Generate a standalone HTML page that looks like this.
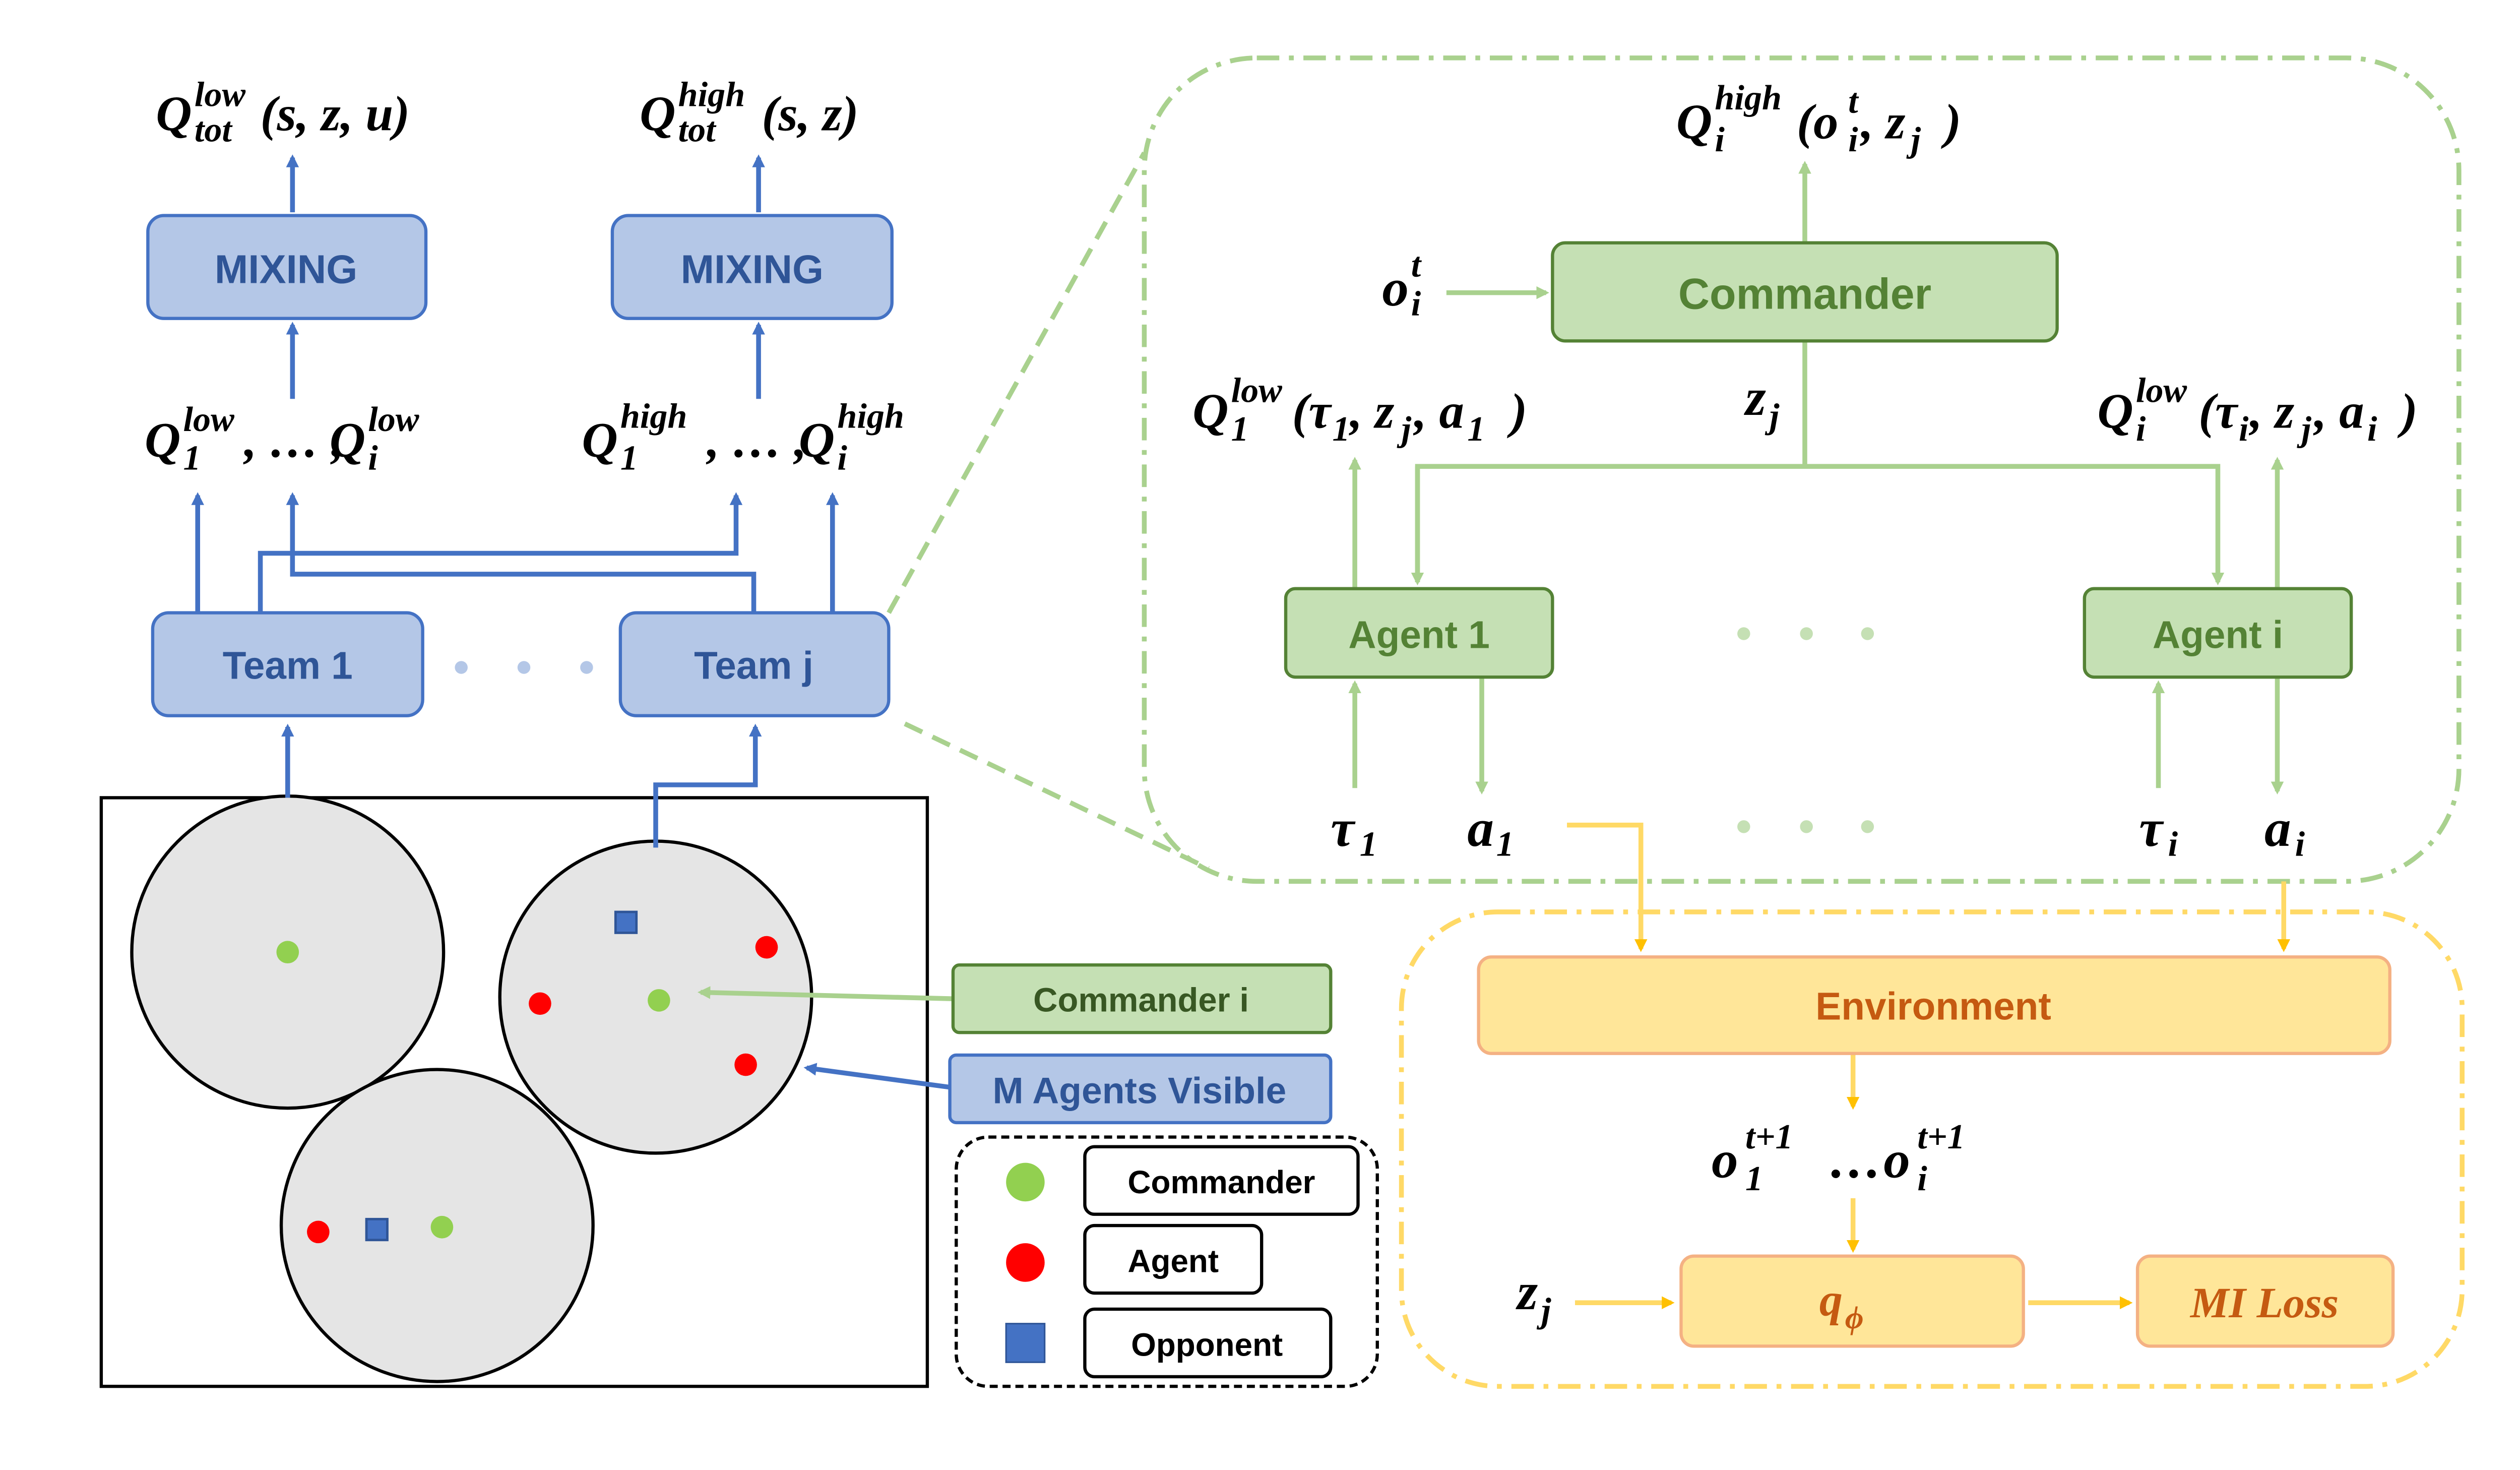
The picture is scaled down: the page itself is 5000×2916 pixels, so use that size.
<!DOCTYPE html>
<html><head><meta charset="utf-8"><style>
html,body{margin:0;padding:0;background:#fff;}
svg{display:block;}
.m{font-family:"Liberation Serif",serif;font-weight:bold;font-style:italic;fill:#000;}
.s{font-size:22px;}
.b{font-family:"Liberation Sans",sans-serif;font-weight:bold;}
</style></head><body>
<svg width="5000" height="2916" viewBox="0 0 1568 914" preserveAspectRatio="none" xmlns="http://www.w3.org/2000/svg">
<defs>
<marker id="ab" markerWidth="8" markerHeight="8" refX="6" refY="4" orient="auto" markerUnits="userSpaceOnUse"><path d="M0,0 L8,4 L0,8 z" fill="#4472c4"/></marker>
<marker id="ag" markerWidth="8" markerHeight="8" refX="6" refY="4" orient="auto" markerUnits="userSpaceOnUse"><path d="M0,0 L8,4 L0,8 z" fill="#a9d18e"/></marker>
<marker id="ay" markerWidth="8" markerHeight="8" refX="6" refY="4" orient="auto" markerUnits="userSpaceOnUse"><path d="M0,0 L8,4 L0,8 z" fill="#ffc000"/></marker>
</defs>
<rect width="1568" height="914" fill="#fff"/>

<!-- map -->
<rect x="63" y="496" width="514" height="366" fill="#fff" stroke="#000" stroke-width="2"/>
<g fill="#e5e5e5" stroke="#000" stroke-width="2">
<circle cx="179" cy="592" r="97"/><circle cx="408" cy="620" r="97"/><circle cx="272" cy="762" r="97"/>
</g>
<g fill="#92d050"><circle cx="179" cy="592" r="7"/><circle cx="410" cy="622" r="7"/><circle cx="275" cy="763" r="7"/></g>
<g fill="#ff0000"><circle cx="477" cy="589" r="7"/><circle cx="336" cy="624" r="7"/><circle cx="464" cy="662" r="7"/><circle cx="198" cy="766" r="7"/></g>
<g fill="#4472c4" stroke="#2f5597" stroke-width="1.5"><rect x="383" y="567" width="13" height="13"/><rect x="228" y="758" width="13" height="13"/></g>

<!-- left top -->
<text class="m" font-size="31"><tspan x="97" y="81">Q</tspan><tspan class="s" x="121" y="66">low</tspan><tspan class="s" x="121" y="88">tot</tspan><tspan x="162" y="81">(s, z, u)</tspan></text>
<text class="m" font-size="31"><tspan x="398" y="81">Q</tspan><tspan class="s" x="422" y="66">high</tspan><tspan class="s" x="422" y="88">tot</tspan><tspan x="474" y="81">(s, z)</tspan></text>
<g stroke="#4472c4" stroke-width="3" fill="none">
<line x1="182" y1="132" x2="182" y2="98" marker-end="url(#ab)"/>
<line x1="472" y1="132" x2="472" y2="98" marker-end="url(#ab)"/>
<line x1="182" y1="248" x2="182" y2="202" marker-end="url(#ab)"/>
<line x1="472" y1="248" x2="472" y2="202" marker-end="url(#ab)"/>
<line x1="123" y1="381" x2="123" y2="308" marker-end="url(#ab)"/>
<line x1="518" y1="381" x2="518" y2="308" marker-end="url(#ab)"/>
<polyline points="162,381 162,344 458,344 458,308" marker-end="url(#ab)"/>
<polyline points="469,381 469,357 182,357 182,308" marker-end="url(#ab)"/>
<line x1="179" y1="496" x2="179" y2="452" marker-end="url(#ab)"/>
<polyline points="408,527 408,488 470,488 470,452" marker-end="url(#ab)"/>
<line x1="591" y1="676" x2="502" y2="664" marker-end="url(#ab)"/>
</g>
<rect x="92" y="134" width="173" height="64" rx="10" fill="#b4c7e7" stroke="#4472c4" stroke-width="2"/>
<text class="b" x="178" y="176" font-size="25" fill="#2f5597" text-anchor="middle">MIXING</text>
<rect x="381" y="134" width="174" height="64" rx="10" fill="#b4c7e7" stroke="#4472c4" stroke-width="2"/>
<text class="b" x="468" y="176" font-size="25" fill="#2f5597" text-anchor="middle">MIXING</text>
<text class="m" font-size="31"><tspan x="90" y="284">Q</tspan><tspan class="s" x="114" y="268">low</tspan><tspan class="s" x="114" y="292">1</tspan><tspan x="152" y="284">, … ,</tspan><tspan x="205" y="284">Q</tspan><tspan class="s" x="229" y="268">low</tspan><tspan class="s" x="229" y="292">i</tspan></text>
<text class="m" font-size="31"><tspan x="362" y="284">Q</tspan><tspan class="s" x="386" y="266">high</tspan><tspan class="s" x="386" y="292">1</tspan><tspan x="440" y="284">, … ,</tspan><tspan x="497" y="284">Q</tspan><tspan class="s" x="521" y="266">high</tspan><tspan class="s" x="521" y="292">i</tspan></text>
<rect x="95" y="381" width="168" height="64" rx="10" fill="#b4c7e7" stroke="#4472c4" stroke-width="2"/>
<text class="b" x="179" y="422" font-size="24" fill="#2f5597" text-anchor="middle">Team 1</text>
<rect x="386" y="381" width="167" height="64" rx="10" fill="#b4c7e7" stroke="#4472c4" stroke-width="2"/>
<text class="b" x="469" y="422" font-size="24" fill="#2f5597" text-anchor="middle">Team j</text>
<circle cx="287" cy="415" r="4" fill="#b4c7e7"/><circle cx="326" cy="415" r="4" fill="#b4c7e7"/><circle cx="365" cy="415" r="4" fill="#b4c7e7"/>

<line x1="593" y1="621" x2="436" y2="617" stroke="#a9d18e" stroke-width="3" marker-end="url(#ag)"/>
<rect x="593" y="600" width="235" height="42" rx="4" fill="#c5e0b4" stroke="#548235" stroke-width="2"/>
<text class="b" x="710" y="629" font-size="21" fill="#385723" text-anchor="middle">Commander i</text>
<rect x="591" y="656" width="237" height="42" rx="4" fill="#b4c7e7" stroke="#4472c4" stroke-width="2"/>
<text class="b" x="709" y="686" font-size="23" fill="#2f5597" text-anchor="middle">M Agents Visible</text>
<rect x="595" y="707" width="262" height="155" rx="20" fill="none" stroke="#000" stroke-width="2" stroke-dasharray="5,3"/>
<circle cx="638" cy="735" r="12" fill="#92d050"/><circle cx="638" cy="785" r="12" fill="#ff0000"/>
<rect x="626" y="823" width="24" height="24" fill="#4472c4" stroke="#2f5597"/>
<g fill="#fff" stroke="#000" stroke-width="2">
<rect x="675" y="713" width="170" height="42" rx="6"/><rect x="675" y="762" width="110" height="42" rx="6"/><rect x="675" y="814" width="153" height="42" rx="6"/>
</g>
<g class="b" font-size="20" fill="#000" text-anchor="middle">
<text x="760" y="742">Commander</text><text x="730" y="791">Agent</text><text x="751" y="843">Opponent</text>
</g>

<!-- green region -->
<rect x="712" y="36" width="818" height="512" rx="70" fill="none" stroke="#a9d18e" stroke-width="3" stroke-dasharray="14,6,3,6"/>
<line x1="553" y1="381" x2="712" y2="95" stroke="#a9d18e" stroke-width="3" stroke-dasharray="12,7"/>
<line x1="563" y1="450" x2="752" y2="540" stroke="#a9d18e" stroke-width="3" stroke-dasharray="12,7"/>
<text class="m" font-size="31"><tspan x="1043" y="86">Q</tspan><tspan class="s" x="1067" y="68">high</tspan><tspan class="s" x="1067" y="94">i</tspan><tspan x="1118" y="86">(o</tspan><tspan class="s" x="1150" y="70">t</tspan><tspan class="s" x="1150" y="94">i</tspan><tspan x="1158" y="86">, z</tspan><tspan class="s" x="1189" y="94">j</tspan><tspan x="1210" y="86">)</tspan></text>
<g stroke="#a9d18e" stroke-width="3" fill="none">
<line x1="1123" y1="150" x2="1123" y2="102" marker-end="url(#ag)"/>
<line x1="900" y1="182" x2="962" y2="182" marker-end="url(#ag)"/>
<line x1="1123" y1="212" x2="1123" y2="290"/>
<polyline points="882,362 882,290 1380,290 1380,362" marker-end="url(#ag)"/>
<line x1="882" y1="290" x2="882" y2="362" marker-end="url(#ag)"/>
<line x1="843" y1="366" x2="843" y2="286" marker-end="url(#ag)"/>
<line x1="1417" y1="366" x2="1417" y2="286" marker-end="url(#ag)"/>
<line x1="843" y1="490" x2="843" y2="425" marker-end="url(#ag)"/>
<line x1="922" y1="421" x2="922" y2="492" marker-end="url(#ag)"/>
<line x1="1343" y1="490" x2="1343" y2="425" marker-end="url(#ag)"/>
<line x1="1417" y1="421" x2="1417" y2="492" marker-end="url(#ag)"/>
</g>
<rect x="966" y="151" width="314" height="61" rx="8" fill="#c5e0b4" stroke="#548235" stroke-width="2"/>
<text class="b" x="1123" y="192" font-size="27" fill="#548235" text-anchor="middle">Commander</text>
<text class="m" font-size="33"><tspan x="860" y="190">o</tspan><tspan class="s" x="878" y="172">t</tspan><tspan class="s" x="878" y="196">i</tspan></text>
<text class="m" font-size="33"><tspan x="1086" y="258">z</tspan><tspan class="s" x="1101" y="266">j</tspan></text>
<text class="m" font-size="31"><tspan x="742" y="266">Q</tspan><tspan class="s" x="766" y="250">low</tspan><tspan class="s" x="766" y="274">1</tspan><tspan x="804" y="266">(τ</tspan><tspan class="s" x="829" y="274">1</tspan><tspan x="840" y="266">, z</tspan><tspan class="s" x="872" y="274">j</tspan><tspan x="880" y="266">, a</tspan><tspan class="s" x="913" y="274">1</tspan><tspan x="940" y="266">)</tspan></text>
<text class="m" font-size="31"><tspan x="1305" y="266">Q</tspan><tspan class="s" x="1329" y="250">low</tspan><tspan class="s" x="1329" y="274">i</tspan><tspan x="1368" y="266">(τ</tspan><tspan class="s" x="1393" y="274">i</tspan><tspan x="1400" y="266">, z</tspan><tspan class="s" x="1432" y="274">j</tspan><tspan x="1440" y="266">, a</tspan><tspan class="s" x="1473" y="274">i</tspan><tspan x="1494" y="266">)</tspan></text>
<rect x="800" y="366" width="166" height="55" rx="6" fill="#c5e0b4" stroke="#548235" stroke-width="2"/>
<text class="b" x="883" y="403" font-size="24" fill="#548235" text-anchor="middle">Agent 1</text>
<rect x="1297" y="366" width="166" height="55" rx="6" fill="#c5e0b4" stroke="#548235" stroke-width="2"/>
<text class="b" x="1380" y="403" font-size="24" fill="#548235" text-anchor="middle">Agent i</text>
<g fill="#c5e0b4"><circle cx="1085" cy="394" r="4"/><circle cx="1124" cy="394" r="4"/><circle cx="1162" cy="394" r="4"/><circle cx="1085" cy="514" r="4"/><circle cx="1124" cy="514" r="4"/><circle cx="1162" cy="514" r="4"/></g>
<text class="m" font-size="33" font-style="normal" font-weight="normal"><tspan x="828" y="526">τ</tspan><tspan class="s" x="846" y="532" font-weight="bold">1</tspan></text>
<text class="m" font-size="33"><tspan x="913" y="526">a</tspan><tspan class="s" x="931" y="532">1</tspan></text>
<text class="m" font-size="33" font-style="normal" font-weight="normal"><tspan x="1331" y="526">τ</tspan><tspan class="s" x="1349" y="532" font-weight="bold" font-style="italic">i</tspan></text>
<text class="m" font-size="33"><tspan x="1409" y="526">a</tspan><tspan class="s" x="1428" y="532">i</tspan></text>

<!-- yellow region -->
<rect x="872" y="567" width="660" height="295" rx="60" fill="none" stroke="#ffd966" stroke-width="3" stroke-dasharray="14,6,3,6"/>
<g stroke="#ffd966" stroke-width="3" fill="none">
<polyline points="975,513 1021,513 1021,590" marker-end="url(#ay)"/>
<line x1="1421" y1="548" x2="1421" y2="590" marker-end="url(#ay)"/>
<line x1="1153" y1="655" x2="1153" y2="688" marker-end="url(#ay)"/>
<line x1="1153" y1="745" x2="1153" y2="777" marker-end="url(#ay)"/>
<line x1="980" y1="810" x2="1040" y2="810" marker-end="url(#ay)"/>
<line x1="1262" y1="810" x2="1325" y2="810" marker-end="url(#ay)"/>
</g>
<rect x="920" y="595" width="567" height="60" rx="8" fill="#ffe699" stroke="#f4b183" stroke-width="2"/>
<text class="b" x="1203" y="634" font-size="24" fill="#c55a11" text-anchor="middle">Environment</text>
<text class="m" font-size="33"><tspan x="1065" y="732">o</tspan><tspan class="s" x="1086" y="714">t+1</tspan><tspan class="s" x="1086" y="740">1</tspan><tspan x="1138" y="732">…</tspan><tspan x="1172" y="732">o</tspan><tspan class="s" x="1193" y="714">t+1</tspan><tspan class="s" x="1193" y="740">i</tspan></text>
<rect x="1046" y="781" width="213" height="56" rx="8" fill="#ffe699" stroke="#f4b183" stroke-width="2"/>
<text class="m" font-size="29" style="fill:#c55a11"><tspan x="1132" y="818">q</tspan><tspan x="1148" y="826" font-size="20">ϕ</tspan></text>
<rect x="1330" y="781" width="159" height="56" rx="8" fill="#ffe699" stroke="#f4b183" stroke-width="2"/>
<text class="m" x="1409" y="819" font-size="27" text-anchor="middle" style="fill:#c55a11">MI Loss</text>
<text class="m" font-size="33"><tspan x="944" y="814">z</tspan><tspan class="s" x="959" y="822">j</tspan></text>
</svg>
</body></html>
